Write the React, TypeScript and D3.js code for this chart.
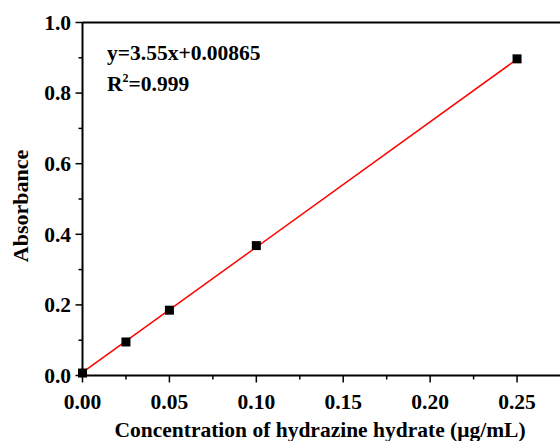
import { useEffect, useRef } from "react"
import * as d3 from "d3"

const concentrations = [0, 0.025, 0.05, 0.1, 0.25]
const absorbances = [0.007, 0.095, 0.185, 0.368, 0.897]
const xTicks = [0, 0.05, 0.1, 0.15, 0.2, 0.25]
const yTicks = [0, 0.2, 0.4, 0.6, 0.8, 1.0]
const slope = 3.55
const intercept = 0.00865
const equationLines = ["y=3.55x+0.00865", "R", "=0.999"]

const width = 560
const height = 441
const font = "'Liberation Serif', 'Times New Roman', serif"

export default function App() {
  const svgRef = useRef<SVGSVGElement>(null)

  useEffect(() => {
    if (!svgRef.current) return
    const svg = d3.select(svgRef.current)
    svg.selectAll("*").remove()

    const x = d3.scaleLinear().domain([0, 0.275]).range([82.5, 560.5])
    const y = d3.scaleLinear().domain([0, 1]).range([375.5, 22.5])

    const g = svg.append("g")

    // frame: top line + left and bottom axes
    g.append("line")
      .attr("x1", x(0)).attr("x2", width)
      .attr("y1", y(1)).attr("y2", y(1))
      .attr("stroke", "#000").attr("stroke-width", 2)
    g.append("line")
      .attr("x1", x(0)).attr("x2", x(0))
      .attr("y1", y(1)).attr("y2", y(0))
      .attr("stroke", "#000").attr("stroke-width", 2)
    g.append("line")
      .attr("x1", x(0) - 1).attr("x2", width)
      .attr("y1", y(0)).attr("y2", y(0))
      .attr("stroke", "#000").attr("stroke-width", 2)

    // x ticks
    const xMinor = d3.range(0.025, 0.275, 0.05)
    xTicks.forEach((t) => {
      g.append("line")
        .attr("x1", x(t)).attr("x2", x(t))
        .attr("y1", y(0)).attr("y2", y(0) + 7)
        .attr("stroke", "#000").attr("stroke-width", 1.5)
      g.append("text")
        .attr("x", x(t)).attr("y", 409)
        .attr("text-anchor", "middle")
        .style("font-family", font).style("font-weight", "bold").style("font-size", "21.5px")
        .text(t.toFixed(2))
    })
    xMinor.forEach((t) => {
      g.append("line")
        .attr("x1", x(t)).attr("x2", x(t))
        .attr("y1", y(0)).attr("y2", y(0) + 4)
        .attr("stroke", "#000").attr("stroke-width", 1.5)
    })

    // y ticks
    const yMinor = d3.range(0.1, 1, 0.2)
    yTicks.forEach((t) => {
      g.append("line")
        .attr("x1", x(0) - 7).attr("x2", x(0))
        .attr("y1", y(t)).attr("y2", y(t))
        .attr("stroke", "#000").attr("stroke-width", 1.5)
      g.append("text")
        .attr("x", 71).attr("y", y(t))
        .attr("dy", "0.34em")
        .attr("text-anchor", "end")
        .style("font-family", font).style("font-weight", "bold").style("font-size", "21.5px")
        .text(t.toFixed(1))
    })
    yMinor.forEach((t) => {
      g.append("line")
        .attr("x1", x(0) - 4).attr("x2", x(0))
        .attr("y1", y(t)).attr("y2", y(t))
        .attr("stroke", "#000").attr("stroke-width", 1.5)
    })

    // fit line
    g.append("line")
      .attr("x1", x(0)).attr("y1", y(intercept))
      .attr("x2", x(0.25)).attr("y2", y(slope * 0.25 + intercept))
      .attr("stroke", "#ff0000").attr("stroke-width", 1.5)

    // points
    g.selectAll(".pt")
      .data(concentrations)
      .enter()
      .append("rect")
      .attr("class", "pt")
      .attr("x", (d) => x(d) - 4.5)
      .attr("y", (d, i) => y(absorbances[i]) - 4.5)
      .attr("width", 9).attr("height", 9)
      .attr("fill", "#000")

    // equation
    g.append("text")
      .attr("x", 107).attr("y", 60)
      .style("font-family", font).style("font-weight", "bold").style("font-size", "21.5px")
      .text(equationLines[0])
    const r2 = g.append("text")
      .attr("x", 107).attr("y", 91)
      .style("font-family", font).style("font-weight", "bold").style("font-size", "21.5px")
    r2.append("tspan").text(equationLines[1])
    r2.append("tspan").attr("dy", -9).style("font-size", "12px").text("2")
    r2.append("tspan").attr("dy", 9).text(equationLines[2])

    // axis titles
    g.append("text")
      .attr("x", 320).attr("y", 437)
      .attr("text-anchor", "middle")
      .style("font-family", font).style("font-weight", "bold").style("font-size", "21.5px")
      .text("Concentration of hydrazine hydrate (μg/mL)")
    g.append("text")
      .attr("transform", `translate(28,206) rotate(-90)`)
      .attr("text-anchor", "middle")
      .style("font-family", font).style("font-weight", "bold").style("font-size", "22px")
      .text("Absorbance")
  }, [])

  return (
    <svg
      ref={svgRef}
      width={width}
      height={height}
      style={{ position: "absolute", left: 0, top: 0, background: "#fff" }}
    />
  )
}
